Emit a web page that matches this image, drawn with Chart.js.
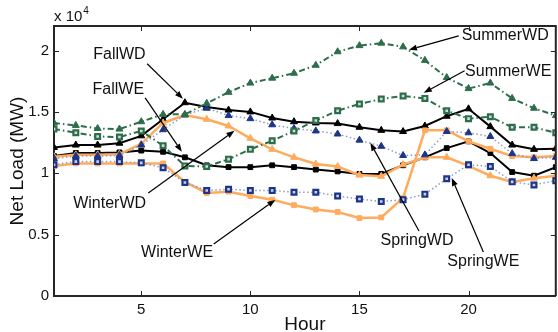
<!DOCTYPE html>
<html>
<head>
<meta charset="utf-8">
<script src="https://cdn.jsdelivr.net/npm/chart.js@4.4.1/dist/chart.umd.min.js"></script>
<style>
  html, body { margin: 0; padding: 0; overflow: hidden; background: #fff; }
  #wrap { position: relative; width: 562px; height: 332px; }
</style>
</head>
<body>
<div id="wrap"><canvas id="chart" width="562" height="332"></canvas></div>
<script>
// Hours of the day
const hours = [1, 2, 3, 4, 5, 6, 7, 8, 9, 10, 11, 12, 13, 14, 15, 16, 17, 18, 19, 20, 21, 22, 23, 24];

// Net load (MW) per season, weekday / weekend
const summerWD = [14100, 13900, 13650, 13600, 14200, 14800, 14800, 15700, 16600, 17350, 17750, 18150, 18800, 19900, 20400, 20600, 20300, 19200, 17800, 16900, 17350, 16100, 15300, 14700];
const summerWE = [13600, 13300, 13000, 12950, 13450, 12250, 10600, 10550, 11150, 11950, 12650, 13450, 14300, 15100, 15650, 16050, 16300, 16100, 15100, 14450, 14600, 13750, 13750, 13300];
const fallWD = [12100, 12300, 12300, 12450, 13050, 14400, 15750, 15400, 15150, 15000, 14500, 14200, 14100, 14050, 13750, 13500, 13400, 13850, 14650, 15250, 13800, 12300, 11950, 12000];
const fallWE = [11400, 11650, 11650, 11700, 11850, 11750, 11300, 10650, 10500, 10500, 10650, 10500, 10300, 10150, 9950, 9950, 10650, 11300, 12050, 12600, 11650, 10100, 9800, 10500];
const winterWD = [11200, 11400, 11400, 11450, 12300, 13550, 14750, 15300, 14700, 14450, 13950, 13650, 13450, 13200, 12700, 12200, 11450, 11500, 13400, 13300, 13000, 11600, 11200, 11300];
const winterWE = [10700, 10950, 10950, 10950, 10850, 10450, 9250, 8600, 8700, 8600, 8600, 8450, 8450, 8150, 7900, 7700, 7850, 8300, 9550, 10700, 10550, 9300, 9050, 9400];
const springWD = [11350, 11500, 11500, 11550, 12400, 14100, 14750, 14400, 13850, 12850, 11950, 11300, 10750, 10550, 9850, 9750, 10700, 11300, 11300, 10600, 9800, 9300, 9600, 9800];
const springWE = [10600, 10800, 10800, 10800, 10800, 10800, 9300, 8400, 8500, 8150, 7850, 7400, 7050, 6850, 6350, 6400, 8000, 13500, 13500, 12600, 12000, 11400, 11300, 11400];

// Tick values
const xTicks = [5, 10, 15, 20];
const yTicks = [0, 5000, 10000, 15000, 20000];

// Labels with arrows (text centre, arrow start, arrow tip) in hour / MW
const notes = [
  { text: 'FallWD',   tx: 4.0,   ty: 19660, x0: 5.27,  y0: 18920, x1: 6.91,  y1: 16070 },
  { text: 'FallWE',   tx: 3.95,  ty: 16800, x0: 5.18,  y0: 16150, x1: 6.86,  y1: 11750 },
  { text: 'WinterWD', tx: 3.55,  ty: 7500,  x0: 5.32,  y0: 8400,  x1: 9.27,  y1: 13460 },
  { text: 'WinterWE', tx: 6.64,  ty: 3500,  x0: 8.32,  y0: 4240,  x1: 11.14, y1: 7830 },
  { text: 'SpringWD', tx: 17.64, ty: 4490,  x0: 17.73, y0: 5300,  x1: 15.5,  y1: 12480 },
  { text: 'SpringWE', tx: 20.68, ty: 2770,  x0: 20.68, y0: 3590,  x1: 19.23, y1: 9620 },
  { text: 'SummerWD', tx: 21.68, ty: 21200, x0: 19.55, y0: 21200, x1: 17.27, y1: 20060 },
  { text: 'SummerWE', tx: 21.82, ty: 18270, x0: 19.82, y0: 18350, x1: 17.95, y1: 16560 }
];

const GREEN = '#2e6d4b';
const NAVY = '#1c3586';
const ORANGE = '#ffab5e';
const AXIS = '#262626';
const FONT = '"Liberation Sans", Arial, sans-serif';

// Box, inward ticks and the x 10^4 multiplier
const framePlugin = {
  id: 'frame',
  afterDraw(chart) {
    const ctx = chart.ctx;
    const a = chart.chartArea;
    const xs = chart.scales.x;
    const ys = chart.scales.y;
    ctx.save();
    ctx.strokeStyle = AXIS;
    ctx.lineWidth = 2;
    ctx.beginPath();
    ctx.moveTo(a.left, a.top);
    ctx.lineTo(a.right, a.top);
    ctx.lineTo(a.right, a.bottom);
    ctx.stroke();
    ctx.lineWidth = 1;
    ctx.beginPath();
    xTicks.forEach(v => {
      const px = Math.round(xs.getPixelForValue(v)) + 0.5;
      ctx.moveTo(px, a.bottom); ctx.lineTo(px, a.bottom - 5);
      ctx.moveTo(px, a.top); ctx.lineTo(px, a.top + 5);
    });
    yTicks.forEach(v => {
      const py = Math.round(ys.getPixelForValue(v)) + 0.5;
      ctx.moveTo(a.left, py); ctx.lineTo(a.left + 5, py);
      ctx.moveTo(a.right, py); ctx.lineTo(a.right - 5, py);
    });
    ctx.stroke();
    // multiplier
    ctx.fillStyle = '#111';
    ctx.textBaseline = 'alphabetic';
    ctx.textAlign = 'left';
    ctx.font = '15px ' + FONT;
    ctx.fillText('x 10', a.left, 21);
    const w = ctx.measureText('x 10').width;
    ctx.font = '10px ' + FONT;
    ctx.fillText('4', a.left + w + 1, 14);
    ctx.restore();
  }
};

// Arrow annotations
const notePlugin = {
  id: 'notes',
  afterDatasetsDraw(chart) {
    const ctx = chart.ctx;
    const xs = chart.scales.x;
    const ys = chart.scales.y;
    ctx.save();
    notes.forEach(n => {
      const x0 = xs.getPixelForValue(n.x0), y0 = ys.getPixelForValue(n.y0);
      const x1 = xs.getPixelForValue(n.x1), y1 = ys.getPixelForValue(n.y1);
      const ang = Math.atan2(y1 - y0, x1 - x0);
      const len = 8, half = 3;
      const bx = x1 - len * Math.cos(ang), by = y1 - len * Math.sin(ang);
      ctx.strokeStyle = '#000';
      ctx.fillStyle = '#000';
      ctx.lineWidth = 1.2;
      ctx.beginPath();
      ctx.moveTo(x0, y0);
      ctx.lineTo(bx, by);
      ctx.stroke();
      ctx.beginPath();
      ctx.moveTo(x1, y1);
      ctx.lineTo(bx + half * Math.sin(ang), by - half * Math.cos(ang));
      ctx.lineTo(bx - half * Math.sin(ang), by + half * Math.cos(ang));
      ctx.closePath();
      ctx.fill();
      ctx.font = '16px ' + FONT;
      ctx.fillStyle = '#111';
      ctx.textAlign = 'center';
      ctx.textBaseline = 'middle';
      ctx.fillText(n.text, xs.getPixelForValue(n.tx), ys.getPixelForValue(n.ty));
    });
    ctx.restore();
  }
};

function series(label, data, color, lineColor, dash, style, fill, width, radius) {
  return {
    label: label,
    data: hours.map((h, i) => ({ x: h, y: data[i] })),
    borderColor: lineColor,
    borderWidth: width,
    borderDash: dash,
    pointStyle: style,
    pointRadius: radius,
    pointBorderColor: color,
    pointBackgroundColor: fill,
    pointBorderWidth: style === 'rect' && fill !== color ? 2.2 : 1,
    tension: 0,
    fill: false
  };
}

new Chart(document.getElementById('chart'), {
  type: 'line',
  data: {
    datasets: [
      series('SummerWD', summerWD, GREEN, GREEN, [6, 3, 1.5, 3], 'triangle', GREEN, 2, 4),
      series('SummerWE', summerWE, GREEN, GREEN, [6, 3, 1.5, 3], 'rect', '#cfe0d3', 2, 3.4),
      series('WinterWD', winterWD, NAVY, '#8d9bc8', [1.5, 2.5], 'triangle', NAVY, 1.5, 4),
      series('WinterWE', winterWE, NAVY, '#8d9bc8', [1.5, 2.5], 'rect', '#c9d3ef', 1.5, 3.4),
      series('SpringWD', springWD, ORANGE, ORANGE, [], 'triangle', ORANGE, 2.5, 4),
      series('SpringWE', springWE, ORANGE, ORANGE, [], 'rect', ORANGE, 2.5, 3.4),
      series('FallWD', fallWD, '#000', '#000', [], 'triangle', '#000', 2, 4),
      series('FallWE', fallWE, '#000', '#000', [], 'rect', '#000', 2, 3.4)
    ]
  },
  options: {
    responsive: false,
    animation: false,
    devicePixelRatio: 1,
    layout: { padding: { top: 26, right: 2, left: 0, bottom: 0 } },
    plugins: {
      legend: { display: false },
      tooltip: { enabled: false }
    },
    scales: {
      x: {
        type: 'linear',
        min: 1,
        max: 24,
        afterBuildTicks: scale => { scale.ticks = xTicks.map(v => ({ value: v })); },
        afterFit: scale => { scale.height = 36; },
        grid: { display: false, drawTicks: false },
        border: { display: true, color: AXIS, width: 2 },
        ticks: { color: '#111', font: { family: FONT, size: 15 }, padding: 5, maxRotation: 0 },
        title: { display: true, text: 'Hour', color: '#111', font: { family: FONT, size: 19, lineHeight: 0.8 }, padding: { top: 0, bottom: 0 } }
      },
      y: {
        min: 0,
        max: 22000,
        afterBuildTicks: scale => { scale.ticks = yTicks.map(v => ({ value: v })); },
        afterFit: scale => { scale.width = 54; },
        grid: { display: false, drawTicks: false },
        border: { display: true, color: AXIS, width: 2 },
        ticks: { color: '#111', font: { family: FONT, size: 15 }, padding: 5, callback: v => String(v / 10000) },
        title: { display: true, text: 'Net Load (MW)', color: '#111', font: { family: FONT, size: 19, lineHeight: 1 }, padding: { top: 8, bottom: 0 } }
      }
    }
  },
  plugins: [framePlugin, notePlugin]
});
</script>
</body>
</html>
